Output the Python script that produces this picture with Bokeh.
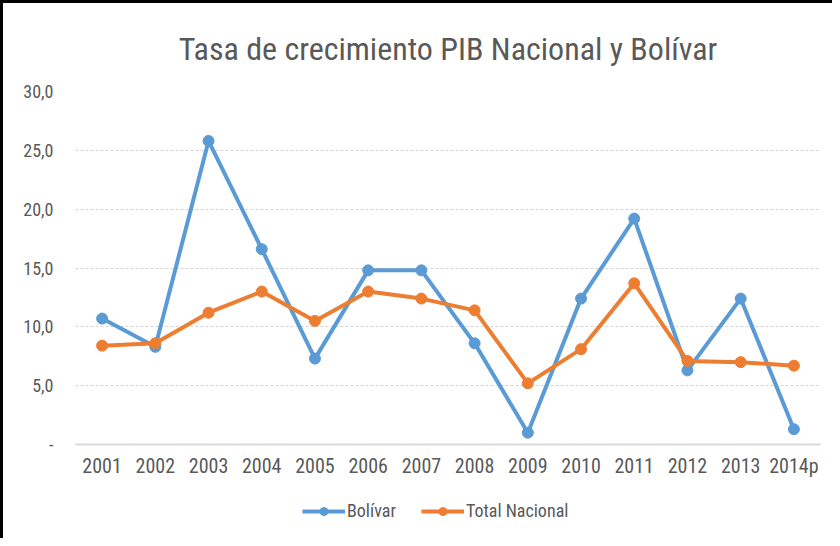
from bokeh.plotting import figure
from bokeh.models import Legend, FixedTicker, ColumnDataSource, FactorRange
from bokeh.layouts import column
from bokeh.embed import file_html
from bokeh.resources import INLINE

years = ["2001", "2002", "2003", "2004", "2005", "2006", "2007",
         "2008", "2009", "2010", "2011", "2012", "2013", "2014p"]
bolivar = [10.7, 8.3, 25.8, 16.6, 7.3, 14.8, 14.8, 8.6, 1.0, 12.4, 19.2, 6.3, 12.4, 1.3]
nacional = [8.4, 8.6, 11.2, 13.0, 10.5, 13.0, 12.4, 11.4, 5.2, 8.1, 13.7, 7.1, 7.0, 6.7]
y_ticks = [0, 5, 10, 15, 20, 25, 30]
y_labels = ["-", "5,0", "10,0", "15,0", "20,0", "25,0", "30,0"]
series_names = ["Bolívar", "Total Nacional"]

FONT = "Roboto Condensed"
GRAY = "#595959"
BLUE = "#5b9bd5"
ORANGE = "#ed7d31"

src = ColumnDataSource(dict(x=years, b=bolivar, n=nacional))

p = figure(width=829, height=478, x_range=FactorRange(*years), y_range=(0, 30),
           output_backend="svg", toolbar_location=None,
           title="Tasa de crecimiento PIB Nacional y Bolívar",
           min_border_left=72, min_border_right=12, min_border_top=87, min_border_bottom=37)
p.outline_line_color = None
p.background_fill_color = "white"
p.border_fill_color = "white"

p.title.align = "center"
p.title.text_font = FONT
p.title.text_font_size = "32px"
p.title.text_font_style = "normal"
p.title.text_color = GRAY
p.title.standoff = 48

p.line("x", "b", source=src, line_color=BLUE, line_width=4)
p.scatter("x", "b", source=src, size=11, fill_color=BLUE, line_color=BLUE)
p.line("x", "n", source=src, line_color=ORANGE, line_width=4)
p.scatter("x", "n", source=src, size=11, fill_color=ORANGE, line_color=ORANGE)

p.xgrid.grid_line_color = None
p.ygrid.grid_line_color = "#d4d4d4"
p.ygrid.grid_line_dash = "3 2"
p.ygrid.grid_line_width = 1

p.yaxis.ticker = FixedTicker(ticks=y_ticks)
p.yaxis.major_label_overrides = {t: l for t, l in zip(y_ticks, y_labels)}
p.yaxis.axis_line_color = None
p.yaxis.major_tick_line_color = None
p.yaxis.minor_tick_line_color = None
p.yaxis.major_tick_out = 0
p.yaxis.major_tick_in = 0
p.yaxis.major_label_text_font = FONT
p.yaxis.major_label_text_font_size = "18px"
p.yaxis.major_label_text_color = GRAY
p.yaxis.major_label_standoff = 22

p.xaxis.axis_line_color = "#d9d9d9"
p.xaxis.axis_line_width = 2
p.xaxis.major_tick_line_color = None
p.xaxis.minor_tick_line_color = None
p.xaxis.major_tick_out = 0
p.xaxis.major_tick_in = 0
p.xaxis.major_label_text_font = FONT
p.xaxis.major_label_text_font_size = "20px"
p.xaxis.major_label_text_color = GRAY
p.xaxis.major_label_standoff = 9

# legend strip below the chart (same series, drawn out of view; only the legend shows)
p2 = figure(width=829, height=57, x_range=FactorRange(*years), y_range=(-20, -10),
            output_backend="svg", toolbar_location=None,
            x_axis_type=None, y_axis_type=None,
            min_border_left=0, min_border_right=0, min_border_top=0, min_border_bottom=0)
p2.outline_line_color = None
p2.background_fill_color = "white"
p2.border_fill_color = "white"
p2.xgrid.visible = False
p2.ygrid.visible = False
l1 = p2.line("x", "b", source=src, line_color=BLUE, line_width=4)
s1 = p2.scatter("x", "b", source=src, size=10, fill_color=BLUE, line_color=BLUE)
l2 = p2.line("x", "n", source=src, line_color=ORANGE, line_width=4)
s2 = p2.scatter("x", "n", source=src, size=10, fill_color=ORANGE, line_color=ORANGE)

legend = Legend(items=[(series_names[0], [l1, s1]), (series_names[1], [l2, s2])],
                orientation="horizontal", location=(227, 17),
                label_text_font=FONT, label_text_font_size="18px",
                label_text_color=GRAY, border_line_color=None,
                background_fill_alpha=0, glyph_width=43, glyph_height=20, spacing=25,
                label_standoff=2, padding=0, margin=0)
p2.add_layout(legend, "center")

layout = column(p, p2, spacing=0,
                styles={"border-top": "3px solid black", "border-left": "3px solid black"})

open("out.html", "w").write(file_html(layout, INLINE))
